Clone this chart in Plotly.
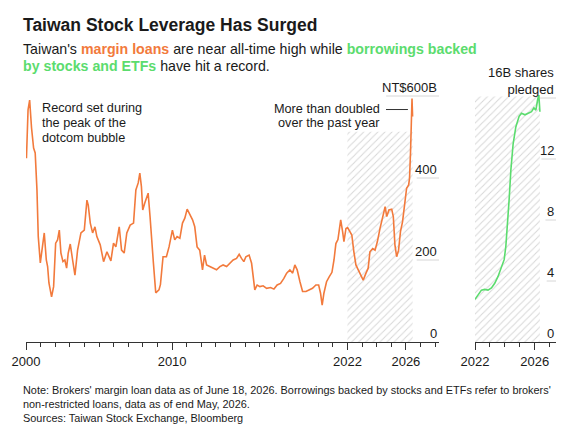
import plotly.graph_objects as go

# margin loans, NT$ billions (decimal year)
MARGIN_YEARS = [
    2000.03, 2000.14, 2000.25, 2000.30, 2000.38, 2000.52, 2000.63, 2000.75, 2000.84, 2000.98,
    2001.14, 2001.25, 2001.39, 2001.48, 2001.57, 2001.75, 2001.89, 2002.03, 2002.16, 2002.28,
    2002.39, 2002.53, 2002.66, 2002.78, 2002.89, 2003.03, 2003.19, 2003.35, 2003.53, 2003.76,
    2003.99, 2004.17, 2004.26, 2004.40, 2004.56, 2004.72, 2004.85, 2005.08, 2005.31, 2005.54,
    2005.81, 2005.99, 2006.15, 2006.38, 2006.54, 2006.72, 2006.90, 2007.13, 2007.36, 2007.52,
    2007.68, 2007.79, 2007.90, 2007.99, 2008.13, 2008.36, 2008.49, 2008.61, 2008.72, 2008.88,
    2009.10, 2009.20, 2009.38, 2009.61, 2009.79, 2010.02, 2010.18, 2010.34, 2010.53, 2010.71,
    2010.87, 2011.03, 2011.21, 2011.40, 2011.55, 2011.71, 2011.89, 2012.08, 2012.22, 2012.36,
    2012.58, 2012.81, 2013.04, 2013.27, 2013.49, 2013.73, 2013.95, 2014.18, 2014.41, 2014.59,
    2014.75, 2014.91, 2015.05, 2015.27, 2015.44, 2015.55, 2015.66, 2015.82, 2016.01, 2016.23,
    2016.47, 2016.74, 2016.97, 2017.19, 2017.42, 2017.65, 2017.84, 2018.06, 2018.25, 2018.40,
    2018.56, 2018.75, 2018.93, 2019.16, 2019.38, 2019.61, 2019.84, 2020.03, 2020.16, 2020.27,
    2020.39, 2020.57, 2020.75, 2020.94, 2021.08, 2021.21, 2021.35, 2021.54, 2021.67, 2021.76,
    2021.90, 2022.01, 2022.17, 2022.30, 2022.44, 2022.58, 2022.74, 2022.90, 2023.08, 2023.27,
    2023.42, 2023.54, 2023.73, 2023.89, 2024.05, 2024.23, 2024.42, 2024.58, 2024.69, 2024.84,
    2025.03, 2025.14, 2025.25, 2025.37, 2025.50, 2025.63, 2025.77, 2025.91, 2026.05, 2026.19,
    2026.25, 2026.32, 2026.38, 2026.42, 2026.46,
]
MARGIN_LOANS = [
    448, 566, 590, 550, 522, 473, 461, 371, 257, 193,
    232, 266, 200, 184, 144, 110, 135, 241, 249, 273,
    217, 196, 200, 180, 217, 239, 200, 163, 224, 266,
    273, 346, 334, 290, 266, 281, 257, 237, 196, 220,
    198, 241, 232, 281, 224, 217, 266, 285, 290, 371,
    388, 412, 379, 322, 339, 363, 306, 257, 193, 120,
    127, 140, 208, 208, 232, 273, 249, 257, 253, 290,
    302, 324, 310, 298, 281, 232, 224, 176, 212, 188,
    184, 180, 176, 184, 188, 184, 192, 200, 204, 214,
    204, 196, 208, 212, 192, 163, 127, 139, 135, 137,
    131, 133, 129, 139, 143, 155, 168, 176, 168, 188,
    176, 147, 123, 123, 127, 131, 139, 139, 119, 90,
    119, 147, 159, 170, 200, 240, 250, 298, 269, 245,
    277, 279, 269, 261, 220, 188, 176, 163, 151, 168,
    180, 220, 228, 224, 245, 277, 310, 330, 306, 322,
    324, 306, 237, 208, 224, 269, 293, 334, 375, 383,
    399, 464, 562, 594, 550,
]

# shares pledged for non-restricted loans, billions
PLEDGE_YEARS = [
    2022.00, 2022.20, 2022.43, 2022.65, 2022.87, 2023.10, 2023.32, 2023.54, 2023.77, 2023.95,
    2024.06, 2024.17, 2024.28, 2024.40, 2024.55, 2024.73, 2024.95, 2025.11, 2025.34, 2025.56,
    2025.78, 2025.94, 2026.07, 2026.19, 2026.27, 2026.34,
]
SHARES_PLEDGED = [
    2.8, 3.05, 3.4, 3.45, 3.4, 3.55, 3.85, 4.3, 4.85, 5.4,
    6.25, 7.6, 9.3, 11.3, 13.0, 14.1, 14.8, 15.0, 14.9, 15.0,
    15.1, 15.35, 15.2, 15.9, 16.2, 15.1,
]

MAIN_TICKS = [2000, 2010, 2022, 2026]
SIDE_TICKS = [2022, 2026]
LOAN_TICKS = [0, 200, 400, 600]
LOAN_LABELS = ["0", "200", "400", "NT$600B"]
PLEDGE_TICKS = [0, 4, 8, 12, 16]
PLEDGE_LABELS = ["0", "4", "8", "12", "16B shares<br>pledged"]

SHADE_START = 2022

W, H = 583, 440
ORANGE = "#f27a3c"
GREEN = "#5bdc6e"
TEXT = "#1a1a1a"
FONT = "Liberation Sans, Arial, sans-serif"

Y_DOM = [1 - 342 / H, 1 - 87.8 / H]
hatch = dict(shape="/", fgcolor="#b0b0b0", bgcolor="white", size=5, solidity=0.2)

fig = go.Figure()
fig.add_trace(go.Bar(
    x=[(SHADE_START + MARGIN_YEARS[-1]) / 2], y=[513], base=0,
    width=[MARGIN_YEARS[-1] - SHADE_START],
    marker=dict(color="white", pattern=hatch, line_width=0),
    hoverinfo="skip", xaxis="x", yaxis="y",
))
fig.add_trace(go.Scatter(
    x=MARGIN_YEARS, y=MARGIN_LOANS, mode="lines",
    line=dict(color=ORANGE, width=1.6), xaxis="x", yaxis="y",
))
fig.add_trace(go.Bar(
    x=[(SHADE_START + PLEDGE_YEARS[-1]) / 2], y=[16.1], base=0,
    width=[PLEDGE_YEARS[-1] - SHADE_START],
    marker=dict(color="white", pattern=hatch, line_width=0),
    hoverinfo="skip", xaxis="x2", yaxis="y2",
))
fig.add_trace(go.Scatter(
    x=PLEDGE_YEARS, y=SHARES_PLEDGED, mode="lines",
    line=dict(color=GREEN, width=1.6), xaxis="x2", yaxis="y2",
))

xcommon = dict(
    showline=True, linecolor="#333", linewidth=1, showgrid=False, zeroline=False,
    ticks="outside", ticklen=7, tickcolor="#333", tickwidth=1, automargin=False,
    minor=dict(ticks="outside", ticklen=4, dtick=1, tick0=2000, tickcolor="#333", showgrid=False),
    tickfont=dict(family=FONT, size=13, color=TEXT), fixedrange=True,
)
ycommon = dict(visible=False, showgrid=False, zeroline=False, fixedrange=True, automargin=False)

fig.update_layout(
    width=W, height=H,
    margin=dict(l=0, r=0, t=0, b=0, autoexpand=False),
    paper_bgcolor="white", plot_bgcolor="white",
    showlegend=False, barmode="overlay",
    font=dict(family=FONT, color=TEXT),
    xaxis=dict(xcommon, domain=[26 / W, 439 / W], range=[2000, 2000 + (439 - 26.3) / 14.6],
               tickvals=MAIN_TICKS, ticktext=[str(t) for t in MAIN_TICKS], anchor="y"),
    yaxis=dict(ycommon, domain=Y_DOM, range=[0, 620], anchor="x"),
    xaxis2=dict(xcommon, domain=[475 / W, 556 / W], range=[2022, 2022 + (556 - 475.3) / 14.9],
                tickvals=SIDE_TICKS, ticktext=[str(t) for t in SIDE_TICKS], anchor="y2"),
    yaxis2=dict(ycommon, domain=Y_DOM, range=[0, 16.67], anchor="x2"),
)

# short grid segments under the value labels
loan_grid_start = [None, 0.946, 0.946, 0.872]
for v, x0 in zip(LOAN_TICKS, loan_grid_start):
    if x0 is None:
        continue
    fig.add_shape(type="line", xref="x domain", yref="y", x0=x0, x1=1, y0=v, y1=v,
                  line=dict(color="#d6d6d6", width=1), layer="below")
pledge_grid_start = [None, 0.885, 0.87, 0.82, 0.47]
for v, x0 in zip(PLEDGE_TICKS, pledge_grid_start):
    if x0 is None:
        continue
    fig.add_shape(type="line", xref="x2 domain", yref="y2", x0=x0, x1=1, y0=v, y1=v,
                  line=dict(color="#d6d6d6", width=1), layer="below")

for v, lab in zip(LOAN_TICKS, LOAN_LABELS):
    fig.add_annotation(xref="x domain", yref="y", x=1, y=v, text=lab, showarrow=False,
                       xanchor="right", yanchor="bottom", yshift=-1,
                       font=dict(family=FONT, size=13, color=TEXT))
for v, lab in zip(PLEDGE_TICKS, PLEDGE_LABELS):
    fig.add_annotation(xref="x2 domain", yref="y2", x=1, y=v, text=lab, showarrow=False,
                       xanchor="right", yanchor="bottom", yshift=-1, align="right",
                       font=dict(family=FONT, size=13, color=TEXT))

# connector for the "doubled" note
fig.add_shape(type="line", xref="x", yref="y", x0=2024.64, x1=2026.14, y0=567, y1=567,
              line=dict(color="#333", width=1))


def txt(x, y, s, size=13, anchor="left"):
    fig.add_annotation(xref="paper", yref="paper", x=x / W, y=1 - y / H, text=s,
                       showarrow=False, xanchor=anchor, yanchor="middle",
                       font=dict(family=FONT, size=size, color=TEXT))


txt(21, 25, "<b>Taiwan Stock Leverage Has Surged</b>", size=17.5)
txt(21, 49, "Taiwan's <b><span style='color:%s'>margin loans</span></b> are near all-time high while "
            "<b><span style='color:%s'>borrowings backed</span></b>" % (ORANGE, GREEN), size=14.2)
txt(21, 66, "<b><span style='color:%s'>by stocks and ETFs</span></b> have hit a record." % GREEN, size=14.2)

txt(40, 108, "Record set during", size=12.7)
txt(40, 123, "the peak of the", size=12.7)
txt(40, 138, "dotcom bubble", size=12.7)
txt(382, 109, "More than doubled", size=12.7, anchor="right")
txt(382, 123, "over the past year", size=12.7, anchor="right")

txt(21, 390, "Note: Brokers' margin loan data as of June 18, 2026. Borrowings backed by stocks and ETFs refer to brokers'",
    size=10.9)
txt(21, 404, "non-restricted loans, data as of end May, 2026.", size=10.9)
txt(21, 418, "Sources: Taiwan Stock Exchange, Bloomberg", size=10.9)

# the page's default body margin would shift the figure by 8px
fig.write_html("out.html", config={"displayModeBar": False},
               post_script="document.body.style.margin='0px';")
